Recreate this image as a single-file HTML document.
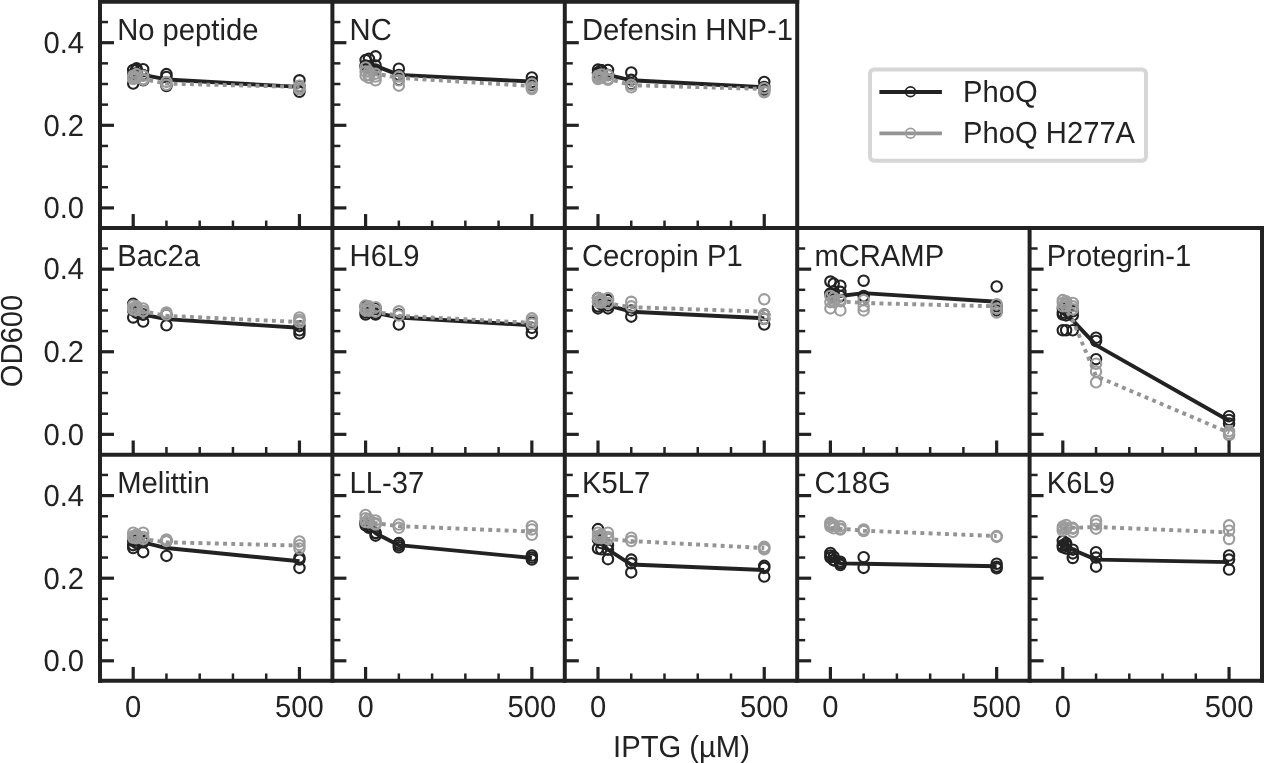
<!DOCTYPE html>
<html><head><meta charset="utf-8"><title>PhoQ OD600</title>
<style>
html,body{margin:0;padding:0;background:#fff;}
body{width:1264px;height:763px;overflow:hidden;}
svg{display:block;will-change:transform;text-rendering:geometricPrecision;}
.t{font-family:"Liberation Sans",sans-serif;font-size:29.2px;fill:#222;}
.sp{stroke:#222;stroke-width:4.0;}
.tM{stroke:#222;stroke-width:3.2;}
.tm{stroke:#222;stroke-width:2.5;}
.cb{fill:none;stroke:#222;stroke-width:2.1;}
.cg{fill:none;stroke:#9c9c9c;stroke-width:2.1;}
.lb{fill:none;stroke:#222;stroke-width:3.9;stroke-linejoin:round;}
.lg{fill:none;stroke:#949494;stroke-width:3.9;stroke-dasharray:3.9 4.3;}
</style></head>
<body><svg width="1264" height="763" viewBox="0 0 1264 763">
<rect width="1264" height="763" fill="#fff"/>
<circle cx="133.2" cy="69.96" r="5.2" class="cb"/>
<circle cx="133.2" cy="74.09" r="5.2" class="cb"/>
<circle cx="133.2" cy="83.59" r="5.2" class="cb"/>
<circle cx="136.52" cy="68.31" r="5.2" class="cb"/>
<circle cx="143.17" cy="69.13" r="5.2" class="cb"/>
<circle cx="143.17" cy="80.28" r="5.2" class="cb"/>
<circle cx="166.45" cy="74.09" r="5.2" class="cb"/>
<circle cx="166.45" cy="76.98" r="5.2" class="cb"/>
<circle cx="166.45" cy="86.07" r="5.2" class="cb"/>
<circle cx="299.45" cy="80.28" r="5.2" class="cb"/>
<circle cx="299.45" cy="86.07" r="5.2" class="cb"/>
<circle cx="299.45" cy="91.85" r="5.2" class="cb"/>
<circle cx="136.52" cy="73.26" r="5.2" class="cb"/>
<circle cx="136.52" cy="69.96" r="5.2" class="cb"/>
<circle cx="143.17" cy="74.91" r="5.2" class="cb"/>
<polyline points="133.2,73.26 136.52,73.26 143.17,74.91 166.45,79.46 299.45,86.89" class="lb"/>
<circle cx="133.2" cy="75.74" r="5.2" class="cg"/>
<circle cx="133.2" cy="79.04" r="5.2" class="cg"/>
<circle cx="136.52" cy="77.81" r="5.2" class="cg"/>
<circle cx="143.17" cy="79.87" r="5.2" class="cg"/>
<circle cx="166.45" cy="81.94" r="5.2" class="cg"/>
<circle cx="166.45" cy="84.83" r="5.2" class="cg"/>
<circle cx="299.45" cy="85.65" r="5.2" class="cg"/>
<circle cx="299.45" cy="88.13" r="5.2" class="cg"/>
<circle cx="299.45" cy="89.37" r="5.2" class="cg"/>
<circle cx="133.2" cy="77.39" r="5.2" class="cg"/>
<circle cx="136.52" cy="77.39" r="5.2" class="cg"/>
<circle cx="136.52" cy="74.09" r="5.2" class="cg"/>
<circle cx="143.17" cy="79.04" r="5.2" class="cg"/>
<circle cx="143.17" cy="75.74" r="5.2" class="cg"/>
<polyline points="133.2,77.39 136.52,77.39 143.17,79.04 166.45,83.59 299.45,86.89" class="lg"/>
<circle cx="365.6" cy="60.05" r="5.2" class="cb"/>
<circle cx="365.6" cy="65.42" r="5.2" class="cb"/>
<circle cx="368.92" cy="58.81" r="5.2" class="cb"/>
<circle cx="368.92" cy="67.48" r="5.2" class="cb"/>
<circle cx="375.57" cy="56.33" r="5.2" class="cb"/>
<circle cx="375.57" cy="65.42" r="5.2" class="cb"/>
<circle cx="375.57" cy="69.55" r="5.2" class="cb"/>
<circle cx="398.85" cy="68.72" r="5.2" class="cb"/>
<circle cx="398.85" cy="74.91" r="5.2" class="cb"/>
<circle cx="398.85" cy="79.87" r="5.2" class="cb"/>
<circle cx="531.85" cy="77.39" r="5.2" class="cb"/>
<circle cx="531.85" cy="81.94" r="5.2" class="cb"/>
<circle cx="531.85" cy="84.83" r="5.2" class="cb"/>
<circle cx="365.6" cy="66.65" r="5.2" class="cb"/>
<circle cx="368.92" cy="66.24" r="5.2" class="cb"/>
<polyline points="365.6,66.65 368.92,66.24 375.57,65.83 398.85,74.91 531.85,81.52" class="lb"/>
<circle cx="365.6" cy="67.48" r="5.2" class="cg"/>
<circle cx="365.6" cy="71.61" r="5.2" class="cg"/>
<circle cx="365.6" cy="75.74" r="5.2" class="cg"/>
<circle cx="368.92" cy="71.61" r="5.2" class="cg"/>
<circle cx="368.92" cy="74.91" r="5.2" class="cg"/>
<circle cx="368.92" cy="77.81" r="5.2" class="cg"/>
<circle cx="375.57" cy="73.67" r="5.2" class="cg"/>
<circle cx="375.57" cy="80.28" r="5.2" class="cg"/>
<circle cx="375.57" cy="76.57" r="5.2" class="cg"/>
<circle cx="398.85" cy="76.57" r="5.2" class="cg"/>
<circle cx="398.85" cy="80.28" r="5.2" class="cg"/>
<circle cx="398.85" cy="85.65" r="5.2" class="cg"/>
<circle cx="531.85" cy="84" r="5.2" class="cg"/>
<circle cx="531.85" cy="87.3" r="5.2" class="cg"/>
<circle cx="531.85" cy="88.96" r="5.2" class="cg"/>
<polyline points="365.6,72.44 368.92,72.85 375.57,73.67 398.85,77.81 531.85,86.07" class="lg"/>
<circle cx="598" cy="69.55" r="5.2" class="cb"/>
<circle cx="598" cy="72.44" r="5.2" class="cb"/>
<circle cx="601.33" cy="70.37" r="5.2" class="cb"/>
<circle cx="607.98" cy="69.96" r="5.2" class="cb"/>
<circle cx="607.98" cy="74.91" r="5.2" class="cb"/>
<circle cx="631.25" cy="72.44" r="5.2" class="cb"/>
<circle cx="631.25" cy="79.87" r="5.2" class="cb"/>
<circle cx="631.25" cy="84" r="5.2" class="cb"/>
<circle cx="764.25" cy="81.94" r="5.2" class="cb"/>
<circle cx="764.25" cy="86.89" r="5.2" class="cb"/>
<circle cx="764.25" cy="89.78" r="5.2" class="cb"/>
<circle cx="598" cy="73.26" r="5.2" class="cb"/>
<circle cx="601.33" cy="73.67" r="5.2" class="cb"/>
<circle cx="601.33" cy="70.37" r="5.2" class="cb"/>
<circle cx="607.98" cy="74.91" r="5.2" class="cb"/>
<polyline points="598,73.26 601.33,73.67 607.98,74.91 631.25,80.28 764.25,87.3" class="lb"/>
<circle cx="598" cy="75.74" r="5.2" class="cg"/>
<circle cx="598" cy="79.04" r="5.2" class="cg"/>
<circle cx="601.33" cy="77.81" r="5.2" class="cg"/>
<circle cx="607.98" cy="79.87" r="5.2" class="cg"/>
<circle cx="631.25" cy="84.83" r="5.2" class="cg"/>
<circle cx="631.25" cy="87.3" r="5.2" class="cg"/>
<circle cx="764.25" cy="88.13" r="5.2" class="cg"/>
<circle cx="764.25" cy="91.43" r="5.2" class="cg"/>
<circle cx="764.25" cy="92.26" r="5.2" class="cg"/>
<circle cx="598" cy="77.39" r="5.2" class="cg"/>
<circle cx="601.33" cy="77.81" r="5.2" class="cg"/>
<circle cx="601.33" cy="74.5" r="5.2" class="cg"/>
<circle cx="607.98" cy="78.63" r="5.2" class="cg"/>
<circle cx="607.98" cy="75.33" r="5.2" class="cg"/>
<polyline points="598,77.39 601.33,77.81 607.98,78.63 631.25,85.24 764.25,88.96" class="lg"/>
<circle cx="133.2" cy="303.84" r="5.2" class="cb"/>
<circle cx="133.2" cy="310.45" r="5.2" class="cb"/>
<circle cx="133.2" cy="317.47" r="5.2" class="cb"/>
<circle cx="136.52" cy="310.45" r="5.2" class="cb"/>
<circle cx="143.17" cy="321.6" r="5.2" class="cb"/>
<circle cx="143.17" cy="314.58" r="5.2" class="cb"/>
<circle cx="166.45" cy="314.58" r="5.2" class="cb"/>
<circle cx="166.45" cy="325.32" r="5.2" class="cb"/>
<circle cx="299.45" cy="326.14" r="5.2" class="cb"/>
<circle cx="299.45" cy="330.27" r="5.2" class="cb"/>
<circle cx="299.45" cy="333.58" r="5.2" class="cb"/>
<circle cx="136.52" cy="312.93" r="5.2" class="cb"/>
<circle cx="136.52" cy="309.62" r="5.2" class="cb"/>
<circle cx="143.17" cy="314.58" r="5.2" class="cb"/>
<polyline points="133.2,312.51 136.52,312.93 143.17,314.58 166.45,319.12 299.45,327.8" class="lb"/>
<circle cx="133.2" cy="305.49" r="5.2" class="cg"/>
<circle cx="133.2" cy="308.38" r="5.2" class="cg"/>
<circle cx="136.52" cy="306.32" r="5.2" class="cg"/>
<circle cx="143.17" cy="308.38" r="5.2" class="cg"/>
<circle cx="143.17" cy="311.28" r="5.2" class="cg"/>
<circle cx="166.45" cy="312.51" r="5.2" class="cg"/>
<circle cx="166.45" cy="314.58" r="5.2" class="cg"/>
<circle cx="299.45" cy="317.47" r="5.2" class="cg"/>
<circle cx="299.45" cy="319.95" r="5.2" class="cg"/>
<circle cx="299.45" cy="322.01" r="5.2" class="cg"/>
<circle cx="133.2" cy="309.62" r="5.2" class="cg"/>
<circle cx="136.52" cy="310.04" r="5.2" class="cg"/>
<circle cx="136.52" cy="306.73" r="5.2" class="cg"/>
<circle cx="143.17" cy="311.28" r="5.2" class="cg"/>
<polyline points="133.2,309.62 136.52,310.04 143.17,311.28 166.45,315.82 299.45,322.01" class="lg"/>
<circle cx="365.6" cy="306.32" r="5.2" class="cb"/>
<circle cx="365.6" cy="312.51" r="5.2" class="cb"/>
<circle cx="365.6" cy="314.58" r="5.2" class="cb"/>
<circle cx="368.92" cy="310.45" r="5.2" class="cb"/>
<circle cx="375.57" cy="308.38" r="5.2" class="cb"/>
<circle cx="375.57" cy="314.58" r="5.2" class="cb"/>
<circle cx="398.85" cy="314.58" r="5.2" class="cb"/>
<circle cx="398.85" cy="324.49" r="5.2" class="cb"/>
<circle cx="531.85" cy="322.84" r="5.2" class="cb"/>
<circle cx="531.85" cy="327.8" r="5.2" class="cb"/>
<circle cx="531.85" cy="333.16" r="5.2" class="cb"/>
<circle cx="368.92" cy="311.69" r="5.2" class="cb"/>
<circle cx="368.92" cy="308.38" r="5.2" class="cb"/>
<circle cx="375.57" cy="312.93" r="5.2" class="cb"/>
<polyline points="365.6,311.28 368.92,311.69 375.57,312.93 398.85,317.47 531.85,325.32" class="lb"/>
<circle cx="365.6" cy="305.49" r="5.2" class="cg"/>
<circle cx="365.6" cy="308.38" r="5.2" class="cg"/>
<circle cx="368.92" cy="306.32" r="5.2" class="cg"/>
<circle cx="375.57" cy="307.15" r="5.2" class="cg"/>
<circle cx="375.57" cy="311.28" r="5.2" class="cg"/>
<circle cx="398.85" cy="311.28" r="5.2" class="cg"/>
<circle cx="398.85" cy="315.41" r="5.2" class="cg"/>
<circle cx="531.85" cy="318.3" r="5.2" class="cg"/>
<circle cx="531.85" cy="320.77" r="5.2" class="cg"/>
<circle cx="531.85" cy="323.67" r="5.2" class="cg"/>
<circle cx="365.6" cy="310.45" r="5.2" class="cg"/>
<circle cx="368.92" cy="310.86" r="5.2" class="cg"/>
<circle cx="368.92" cy="307.56" r="5.2" class="cg"/>
<circle cx="375.57" cy="311.69" r="5.2" class="cg"/>
<polyline points="365.6,310.45 368.92,310.86 375.57,311.69 398.85,315.82 531.85,322.84" class="lg"/>
<circle cx="598" cy="298.06" r="5.2" class="cb"/>
<circle cx="598" cy="306.32" r="5.2" class="cb"/>
<circle cx="598" cy="308.38" r="5.2" class="cb"/>
<circle cx="601.33" cy="302.19" r="5.2" class="cb"/>
<circle cx="607.98" cy="308.38" r="5.2" class="cb"/>
<circle cx="607.98" cy="300.12" r="5.2" class="cb"/>
<circle cx="631.25" cy="310.45" r="5.2" class="cb"/>
<circle cx="631.25" cy="316.64" r="5.2" class="cb"/>
<circle cx="764.25" cy="314.58" r="5.2" class="cb"/>
<circle cx="764.25" cy="318.71" r="5.2" class="cb"/>
<circle cx="764.25" cy="324.49" r="5.2" class="cb"/>
<circle cx="601.33" cy="304.25" r="5.2" class="cb"/>
<circle cx="601.33" cy="300.95" r="5.2" class="cb"/>
<circle cx="607.98" cy="305.49" r="5.2" class="cb"/>
<polyline points="598,303.84 601.33,304.25 607.98,305.49 631.25,311.69 764.25,318.3" class="lb"/>
<circle cx="598" cy="298.06" r="5.2" class="cg"/>
<circle cx="598" cy="301.36" r="5.2" class="cg"/>
<circle cx="601.33" cy="300.12" r="5.2" class="cg"/>
<circle cx="607.98" cy="298.06" r="5.2" class="cg"/>
<circle cx="607.98" cy="303.02" r="5.2" class="cg"/>
<circle cx="631.25" cy="301.78" r="5.2" class="cg"/>
<circle cx="631.25" cy="306.32" r="5.2" class="cg"/>
<circle cx="764.25" cy="299.3" r="5.2" class="cg"/>
<circle cx="764.25" cy="314.58" r="5.2" class="cg"/>
<circle cx="764.25" cy="318.71" r="5.2" class="cg"/>
<circle cx="598" cy="302.19" r="5.2" class="cg"/>
<circle cx="601.33" cy="302.6" r="5.2" class="cg"/>
<circle cx="601.33" cy="299.3" r="5.2" class="cg"/>
<circle cx="607.98" cy="303.43" r="5.2" class="cg"/>
<polyline points="598,302.19 601.33,302.6 607.98,303.43 631.25,307.15 764.25,311.69" class="lg"/>
<circle cx="830.4" cy="281.54" r="5.2" class="cb"/>
<circle cx="830.4" cy="293.93" r="5.2" class="cb"/>
<circle cx="833.73" cy="283.61" r="5.2" class="cb"/>
<circle cx="840.38" cy="285.67" r="5.2" class="cb"/>
<circle cx="840.38" cy="291.87" r="5.2" class="cb"/>
<circle cx="863.65" cy="280.71" r="5.2" class="cb"/>
<circle cx="863.65" cy="296" r="5.2" class="cb"/>
<circle cx="996.65" cy="286.5" r="5.2" class="cb"/>
<circle cx="996.65" cy="306.32" r="5.2" class="cb"/>
<circle cx="996.65" cy="310.45" r="5.2" class="cb"/>
<circle cx="830.4" cy="293.52" r="5.2" class="cb"/>
<circle cx="833.73" cy="294.76" r="5.2" class="cb"/>
<circle cx="833.73" cy="291.45" r="5.2" class="cb"/>
<circle cx="840.38" cy="296" r="5.2" class="cb"/>
<polyline points="830.4,293.52 833.73,294.76 840.38,296 863.65,293.1 996.65,301.78" class="lb"/>
<circle cx="830.4" cy="296" r="5.2" class="cg"/>
<circle cx="830.4" cy="302.19" r="5.2" class="cg"/>
<circle cx="830.4" cy="308.38" r="5.2" class="cg"/>
<circle cx="833.73" cy="302.19" r="5.2" class="cg"/>
<circle cx="840.38" cy="310.45" r="5.2" class="cg"/>
<circle cx="840.38" cy="300.12" r="5.2" class="cg"/>
<circle cx="863.65" cy="300.12" r="5.2" class="cg"/>
<circle cx="863.65" cy="306.32" r="5.2" class="cg"/>
<circle cx="863.65" cy="310.45" r="5.2" class="cg"/>
<circle cx="996.65" cy="304.25" r="5.2" class="cg"/>
<circle cx="996.65" cy="308.38" r="5.2" class="cg"/>
<circle cx="996.65" cy="312.51" r="5.2" class="cg"/>
<circle cx="833.73" cy="300.95" r="5.2" class="cg"/>
<circle cx="833.73" cy="297.65" r="5.2" class="cg"/>
<circle cx="840.38" cy="301.36" r="5.2" class="cg"/>
<polyline points="830.4,300.54 833.73,300.95 840.38,301.36 863.65,303.02 996.65,306.32" class="lg"/>
<circle cx="1062.8" cy="308.38" r="5.2" class="cb"/>
<circle cx="1062.8" cy="312.51" r="5.2" class="cb"/>
<circle cx="1062.8" cy="314.58" r="5.2" class="cb"/>
<circle cx="1062.8" cy="330.27" r="5.2" class="cb"/>
<circle cx="1066.12" cy="330.27" r="5.2" class="cb"/>
<circle cx="1072.77" cy="330.27" r="5.2" class="cb"/>
<circle cx="1066.12" cy="310.45" r="5.2" class="cb"/>
<circle cx="1072.77" cy="311.28" r="5.2" class="cb"/>
<circle cx="1072.77" cy="315.41" r="5.2" class="cb"/>
<circle cx="1096.05" cy="337.71" r="5.2" class="cb"/>
<circle cx="1096.05" cy="341.01" r="5.2" class="cb"/>
<circle cx="1096.05" cy="359.18" r="5.2" class="cb"/>
<circle cx="1229.05" cy="416.18" r="5.2" class="cb"/>
<circle cx="1229.05" cy="419.89" r="5.2" class="cb"/>
<circle cx="1229.05" cy="423.61" r="5.2" class="cb"/>
<circle cx="1066.12" cy="315.41" r="5.2" class="cb"/>
<polyline points="1062.8,311.69 1066.12,315.41 1072.77,320.36 1096.05,345.14 1229.05,420.72" class="lb"/>
<circle cx="1062.8" cy="300.12" r="5.2" class="cg"/>
<circle cx="1062.8" cy="303.02" r="5.2" class="cg"/>
<circle cx="1062.8" cy="306.32" r="5.2" class="cg"/>
<circle cx="1066.12" cy="301.36" r="5.2" class="cg"/>
<circle cx="1066.12" cy="306.32" r="5.2" class="cg"/>
<circle cx="1066.12" cy="303.84" r="5.2" class="cg"/>
<circle cx="1072.77" cy="303.02" r="5.2" class="cg"/>
<circle cx="1072.77" cy="306.32" r="5.2" class="cg"/>
<circle cx="1072.77" cy="309.21" r="5.2" class="cg"/>
<circle cx="1096.05" cy="363.73" r="5.2" class="cg"/>
<circle cx="1096.05" cy="371.57" r="5.2" class="cg"/>
<circle cx="1096.05" cy="382.31" r="5.2" class="cg"/>
<circle cx="1229.05" cy="431.05" r="5.2" class="cg"/>
<circle cx="1229.05" cy="433.52" r="5.2" class="cg"/>
<circle cx="1229.05" cy="435.18" r="5.2" class="cg"/>
<polyline points="1062.8,305.49 1066.12,310.45 1072.77,320.36 1096.05,376.12 1229.05,432.7" class="lg"/>
<circle cx="133.2" cy="541.03" r="5.2" class="cb"/>
<circle cx="133.2" cy="545.16" r="5.2" class="cb"/>
<circle cx="133.2" cy="548.05" r="5.2" class="cb"/>
<circle cx="136.52" cy="543.1" r="5.2" class="cb"/>
<circle cx="143.17" cy="552.18" r="5.2" class="cb"/>
<circle cx="143.17" cy="541.03" r="5.2" class="cb"/>
<circle cx="166.45" cy="541.03" r="5.2" class="cb"/>
<circle cx="166.45" cy="555.9" r="5.2" class="cb"/>
<circle cx="299.45" cy="557.55" r="5.2" class="cb"/>
<circle cx="299.45" cy="559.62" r="5.2" class="cb"/>
<circle cx="299.45" cy="567.88" r="5.2" class="cb"/>
<circle cx="136.52" cy="540.62" r="5.2" class="cb"/>
<circle cx="136.52" cy="537.31" r="5.2" class="cb"/>
<circle cx="143.17" cy="542.27" r="5.2" class="cb"/>
<polyline points="133.2,540.2 136.52,540.62 143.17,542.27 166.45,548.05 299.45,561.27" class="lb"/>
<circle cx="133.2" cy="532.77" r="5.2" class="cg"/>
<circle cx="133.2" cy="536.07" r="5.2" class="cg"/>
<circle cx="136.52" cy="534.83" r="5.2" class="cg"/>
<circle cx="143.17" cy="532.77" r="5.2" class="cg"/>
<circle cx="143.17" cy="536.9" r="5.2" class="cg"/>
<circle cx="166.45" cy="539.38" r="5.2" class="cg"/>
<circle cx="166.45" cy="541.03" r="5.2" class="cg"/>
<circle cx="299.45" cy="541.44" r="5.2" class="cg"/>
<circle cx="299.45" cy="545.16" r="5.2" class="cg"/>
<circle cx="299.45" cy="548.46" r="5.2" class="cg"/>
<circle cx="133.2" cy="537.73" r="5.2" class="cg"/>
<circle cx="136.52" cy="538.14" r="5.2" class="cg"/>
<circle cx="136.52" cy="534.83" r="5.2" class="cg"/>
<circle cx="143.17" cy="538.96" r="5.2" class="cg"/>
<polyline points="133.2,537.73 136.52,538.14 143.17,538.96 166.45,542.27 299.45,545.57" class="lg"/>
<circle cx="365.6" cy="522.44" r="5.2" class="cb"/>
<circle cx="365.6" cy="525.34" r="5.2" class="cb"/>
<circle cx="368.92" cy="524.51" r="5.2" class="cb"/>
<circle cx="368.92" cy="527.81" r="5.2" class="cb"/>
<circle cx="375.57" cy="535.66" r="5.2" class="cb"/>
<circle cx="375.57" cy="532.77" r="5.2" class="cb"/>
<circle cx="398.85" cy="543.1" r="5.2" class="cb"/>
<circle cx="398.85" cy="545.16" r="5.2" class="cb"/>
<circle cx="398.85" cy="547.22" r="5.2" class="cb"/>
<circle cx="531.85" cy="555.48" r="5.2" class="cb"/>
<circle cx="531.85" cy="557.55" r="5.2" class="cb"/>
<circle cx="531.85" cy="559.62" r="5.2" class="cb"/>
<circle cx="365.6" cy="522.86" r="5.2" class="cb"/>
<circle cx="368.92" cy="526.57" r="5.2" class="cb"/>
<circle cx="375.57" cy="533.18" r="5.2" class="cb"/>
<polyline points="365.6,522.86 368.92,526.57 375.57,533.18 398.85,545.16 531.85,557.96" class="lb"/>
<circle cx="365.6" cy="515.01" r="5.2" class="cg"/>
<circle cx="365.6" cy="518.31" r="5.2" class="cg"/>
<circle cx="368.92" cy="519.55" r="5.2" class="cg"/>
<circle cx="375.57" cy="520.38" r="5.2" class="cg"/>
<circle cx="375.57" cy="524.51" r="5.2" class="cg"/>
<circle cx="398.85" cy="524.51" r="5.2" class="cg"/>
<circle cx="398.85" cy="527.81" r="5.2" class="cg"/>
<circle cx="531.85" cy="526.16" r="5.2" class="cg"/>
<circle cx="531.85" cy="529.47" r="5.2" class="cg"/>
<circle cx="531.85" cy="534.83" r="5.2" class="cg"/>
<circle cx="365.6" cy="522.03" r="5.2" class="cg"/>
<circle cx="368.92" cy="522.44" r="5.2" class="cg"/>
<circle cx="368.92" cy="519.14" r="5.2" class="cg"/>
<circle cx="375.57" cy="523.27" r="5.2" class="cg"/>
<polyline points="365.6,522.03 368.92,522.44 375.57,523.27 398.85,526.16 531.85,531.53" class="lg"/>
<circle cx="598" cy="529.05" r="5.2" class="cb"/>
<circle cx="598" cy="548.46" r="5.2" class="cb"/>
<circle cx="601.33" cy="549.29" r="5.2" class="cb"/>
<circle cx="607.98" cy="559.2" r="5.2" class="cb"/>
<circle cx="607.98" cy="545.16" r="5.2" class="cb"/>
<circle cx="631.25" cy="559.62" r="5.2" class="cb"/>
<circle cx="631.25" cy="563.33" r="5.2" class="cb"/>
<circle cx="631.25" cy="572.42" r="5.2" class="cb"/>
<circle cx="764.25" cy="565.81" r="5.2" class="cb"/>
<circle cx="764.25" cy="567.88" r="5.2" class="cb"/>
<circle cx="764.25" cy="576.55" r="5.2" class="cb"/>
<circle cx="598" cy="539.38" r="5.2" class="cb"/>
<circle cx="601.33" cy="543.1" r="5.2" class="cb"/>
<circle cx="601.33" cy="539.79" r="5.2" class="cb"/>
<circle cx="607.98" cy="549.7" r="5.2" class="cb"/>
<polyline points="598,539.38 601.33,543.1 607.98,549.7 631.25,564.57 764.25,569.94" class="lb"/>
<circle cx="598" cy="532.77" r="5.2" class="cg"/>
<circle cx="598" cy="536.07" r="5.2" class="cg"/>
<circle cx="601.33" cy="534.83" r="5.2" class="cg"/>
<circle cx="607.98" cy="532.77" r="5.2" class="cg"/>
<circle cx="607.98" cy="536.9" r="5.2" class="cg"/>
<circle cx="631.25" cy="537.73" r="5.2" class="cg"/>
<circle cx="631.25" cy="541.03" r="5.2" class="cg"/>
<circle cx="764.25" cy="546.81" r="5.2" class="cg"/>
<circle cx="764.25" cy="548.46" r="5.2" class="cg"/>
<circle cx="764.25" cy="549.29" r="5.2" class="cg"/>
<circle cx="598" cy="537.73" r="5.2" class="cg"/>
<circle cx="601.33" cy="538.14" r="5.2" class="cg"/>
<circle cx="601.33" cy="534.83" r="5.2" class="cg"/>
<circle cx="607.98" cy="538.96" r="5.2" class="cg"/>
<polyline points="598,537.73 601.33,538.14 607.98,538.96 631.25,541.03 764.25,548.05" class="lg"/>
<circle cx="830.4" cy="553.01" r="5.2" class="cb"/>
<circle cx="830.4" cy="555.48" r="5.2" class="cb"/>
<circle cx="830.4" cy="557.55" r="5.2" class="cb"/>
<circle cx="833.73" cy="556.72" r="5.2" class="cb"/>
<circle cx="833.73" cy="560.44" r="5.2" class="cb"/>
<circle cx="840.38" cy="561.68" r="5.2" class="cb"/>
<circle cx="840.38" cy="564.98" r="5.2" class="cb"/>
<circle cx="863.65" cy="557.14" r="5.2" class="cb"/>
<circle cx="863.65" cy="567.88" r="5.2" class="cb"/>
<circle cx="996.65" cy="563.75" r="5.2" class="cb"/>
<circle cx="996.65" cy="566.64" r="5.2" class="cb"/>
<circle cx="996.65" cy="568.29" r="5.2" class="cb"/>
<circle cx="833.73" cy="560.03" r="5.2" class="cb"/>
<circle cx="840.38" cy="563.33" r="5.2" class="cb"/>
<polyline points="830.4,558.38 833.73,560.03 840.38,563.33 863.65,563.75 996.65,566.22" class="lb"/>
<circle cx="830.4" cy="522.86" r="5.2" class="cg"/>
<circle cx="830.4" cy="524.51" r="5.2" class="cg"/>
<circle cx="830.4" cy="526.57" r="5.2" class="cg"/>
<circle cx="833.73" cy="525.34" r="5.2" class="cg"/>
<circle cx="840.38" cy="526.16" r="5.2" class="cg"/>
<circle cx="840.38" cy="529.47" r="5.2" class="cg"/>
<circle cx="863.65" cy="529.47" r="5.2" class="cg"/>
<circle cx="863.65" cy="531.12" r="5.2" class="cg"/>
<circle cx="996.65" cy="536.07" r="5.2" class="cg"/>
<circle cx="996.65" cy="536.9" r="5.2" class="cg"/>
<circle cx="833.73" cy="528.23" r="5.2" class="cg"/>
<circle cx="833.73" cy="524.92" r="5.2" class="cg"/>
<circle cx="840.38" cy="528.64" r="5.2" class="cg"/>
<polyline points="830.4,527.81 833.73,528.23 840.38,528.64 863.65,530.7 996.65,536.07" class="lg"/>
<circle cx="1062.8" cy="541.03" r="5.2" class="cb"/>
<circle cx="1062.8" cy="545.16" r="5.2" class="cb"/>
<circle cx="1062.8" cy="547.22" r="5.2" class="cb"/>
<circle cx="1066.12" cy="543.1" r="5.2" class="cb"/>
<circle cx="1066.12" cy="548.46" r="5.2" class="cb"/>
<circle cx="1072.77" cy="557.96" r="5.2" class="cb"/>
<circle cx="1072.77" cy="553.42" r="5.2" class="cb"/>
<circle cx="1096.05" cy="552.18" r="5.2" class="cb"/>
<circle cx="1096.05" cy="557.55" r="5.2" class="cb"/>
<circle cx="1096.05" cy="566.64" r="5.2" class="cb"/>
<circle cx="1229.05" cy="555.48" r="5.2" class="cb"/>
<circle cx="1229.05" cy="559.62" r="5.2" class="cb"/>
<circle cx="1229.05" cy="569.53" r="5.2" class="cb"/>
<circle cx="1066.12" cy="545.16" r="5.2" class="cb"/>
<circle cx="1072.77" cy="549.7" r="5.2" class="cb"/>
<polyline points="1062.8,542.68 1066.12,545.16 1072.77,549.7 1096.05,559.62 1229.05,562.09" class="lb"/>
<circle cx="1062.8" cy="526.57" r="5.2" class="cg"/>
<circle cx="1062.8" cy="528.64" r="5.2" class="cg"/>
<circle cx="1062.8" cy="530.7" r="5.2" class="cg"/>
<circle cx="1066.12" cy="527.81" r="5.2" class="cg"/>
<circle cx="1072.77" cy="528.64" r="5.2" class="cg"/>
<circle cx="1072.77" cy="531.94" r="5.2" class="cg"/>
<circle cx="1096.05" cy="520.79" r="5.2" class="cg"/>
<circle cx="1096.05" cy="524.51" r="5.2" class="cg"/>
<circle cx="1096.05" cy="528.64" r="5.2" class="cg"/>
<circle cx="1229.05" cy="525.34" r="5.2" class="cg"/>
<circle cx="1229.05" cy="530.7" r="5.2" class="cg"/>
<circle cx="1229.05" cy="538.96" r="5.2" class="cg"/>
<circle cx="1066.12" cy="528.23" r="5.2" class="cg"/>
<circle cx="1066.12" cy="524.92" r="5.2" class="cg"/>
<circle cx="1072.77" cy="527.81" r="5.2" class="cg"/>
<polyline points="1062.8,528.64 1066.12,528.23 1072.77,527.81 1096.05,526.99 1229.05,532.36" class="lg"/>
<line x1="100" y1="207.9" x2="114" y2="207.9" class="tM"/>
<line x1="100" y1="187.25" x2="108" y2="187.25" class="tm"/>
<line x1="100" y1="166.6" x2="108" y2="166.6" class="tm"/>
<line x1="100" y1="145.95" x2="108" y2="145.95" class="tm"/>
<line x1="100" y1="125.3" x2="114" y2="125.3" class="tM"/>
<line x1="100" y1="104.65" x2="108" y2="104.65" class="tm"/>
<line x1="100" y1="84" x2="108" y2="84" class="tm"/>
<line x1="100" y1="63.35" x2="108" y2="63.35" class="tm"/>
<line x1="100" y1="42.7" x2="114" y2="42.7" class="tM"/>
<line x1="100" y1="22.05" x2="108" y2="22.05" class="tm"/>
<line x1="100" y1="1.4" x2="108" y2="1.4" class="tm"/>
<line x1="133.2" y1="228.55" x2="133.2" y2="214.05" class="tM"/>
<line x1="166.45" y1="228.55" x2="166.45" y2="220.55" class="tm"/>
<line x1="199.7" y1="228.55" x2="199.7" y2="220.55" class="tm"/>
<line x1="232.95" y1="228.55" x2="232.95" y2="220.55" class="tm"/>
<line x1="266.2" y1="228.55" x2="266.2" y2="220.55" class="tm"/>
<line x1="299.45" y1="228.55" x2="299.45" y2="214.05" class="tM"/>
<text transform="translate(117.2,39.9) scale(1,1.04)" class="t">No peptide</text>
<line x1="332.4" y1="207.9" x2="346.4" y2="207.9" class="tM"/>
<line x1="332.4" y1="187.25" x2="340.4" y2="187.25" class="tm"/>
<line x1="332.4" y1="166.6" x2="340.4" y2="166.6" class="tm"/>
<line x1="332.4" y1="145.95" x2="340.4" y2="145.95" class="tm"/>
<line x1="332.4" y1="125.3" x2="346.4" y2="125.3" class="tM"/>
<line x1="332.4" y1="104.65" x2="340.4" y2="104.65" class="tm"/>
<line x1="332.4" y1="84" x2="340.4" y2="84" class="tm"/>
<line x1="332.4" y1="63.35" x2="340.4" y2="63.35" class="tm"/>
<line x1="332.4" y1="42.7" x2="346.4" y2="42.7" class="tM"/>
<line x1="332.4" y1="22.05" x2="340.4" y2="22.05" class="tm"/>
<line x1="332.4" y1="1.4" x2="340.4" y2="1.4" class="tm"/>
<line x1="365.6" y1="228.55" x2="365.6" y2="214.05" class="tM"/>
<line x1="398.85" y1="228.55" x2="398.85" y2="220.55" class="tm"/>
<line x1="432.1" y1="228.55" x2="432.1" y2="220.55" class="tm"/>
<line x1="465.35" y1="228.55" x2="465.35" y2="220.55" class="tm"/>
<line x1="498.6" y1="228.55" x2="498.6" y2="220.55" class="tm"/>
<line x1="531.85" y1="228.55" x2="531.85" y2="214.05" class="tM"/>
<text transform="translate(349.6,39.9) scale(1,1.04)" class="t">NC</text>
<line x1="564.8" y1="207.9" x2="578.8" y2="207.9" class="tM"/>
<line x1="564.8" y1="187.25" x2="572.8" y2="187.25" class="tm"/>
<line x1="564.8" y1="166.6" x2="572.8" y2="166.6" class="tm"/>
<line x1="564.8" y1="145.95" x2="572.8" y2="145.95" class="tm"/>
<line x1="564.8" y1="125.3" x2="578.8" y2="125.3" class="tM"/>
<line x1="564.8" y1="104.65" x2="572.8" y2="104.65" class="tm"/>
<line x1="564.8" y1="84" x2="572.8" y2="84" class="tm"/>
<line x1="564.8" y1="63.35" x2="572.8" y2="63.35" class="tm"/>
<line x1="564.8" y1="42.7" x2="578.8" y2="42.7" class="tM"/>
<line x1="564.8" y1="22.05" x2="572.8" y2="22.05" class="tm"/>
<line x1="564.8" y1="1.4" x2="572.8" y2="1.4" class="tm"/>
<line x1="598" y1="228.55" x2="598" y2="214.05" class="tM"/>
<line x1="631.25" y1="228.55" x2="631.25" y2="220.55" class="tm"/>
<line x1="664.5" y1="228.55" x2="664.5" y2="220.55" class="tm"/>
<line x1="697.75" y1="228.55" x2="697.75" y2="220.55" class="tm"/>
<line x1="731" y1="228.55" x2="731" y2="220.55" class="tm"/>
<line x1="764.25" y1="228.55" x2="764.25" y2="214.05" class="tM"/>
<text transform="translate(582,39.9) scale(1,1.04)" class="t">Defensin HNP-1</text>
<line x1="100" y1="434.35" x2="114" y2="434.35" class="tM"/>
<line x1="100" y1="413.7" x2="108" y2="413.7" class="tm"/>
<line x1="100" y1="393.05" x2="108" y2="393.05" class="tm"/>
<line x1="100" y1="372.4" x2="108" y2="372.4" class="tm"/>
<line x1="100" y1="351.75" x2="114" y2="351.75" class="tM"/>
<line x1="100" y1="331.1" x2="108" y2="331.1" class="tm"/>
<line x1="100" y1="310.45" x2="108" y2="310.45" class="tm"/>
<line x1="100" y1="289.8" x2="108" y2="289.8" class="tm"/>
<line x1="100" y1="269.15" x2="114" y2="269.15" class="tM"/>
<line x1="100" y1="248.5" x2="108" y2="248.5" class="tm"/>
<line x1="100" y1="227.85" x2="108" y2="227.85" class="tm"/>
<line x1="133.2" y1="455" x2="133.2" y2="440.5" class="tM"/>
<line x1="166.45" y1="455" x2="166.45" y2="447" class="tm"/>
<line x1="199.7" y1="455" x2="199.7" y2="447" class="tm"/>
<line x1="232.95" y1="455" x2="232.95" y2="447" class="tm"/>
<line x1="266.2" y1="455" x2="266.2" y2="447" class="tm"/>
<line x1="299.45" y1="455" x2="299.45" y2="440.5" class="tM"/>
<text transform="translate(117.2,266.35) scale(1,1.04)" class="t">Bac2a</text>
<line x1="332.4" y1="434.35" x2="346.4" y2="434.35" class="tM"/>
<line x1="332.4" y1="413.7" x2="340.4" y2="413.7" class="tm"/>
<line x1="332.4" y1="393.05" x2="340.4" y2="393.05" class="tm"/>
<line x1="332.4" y1="372.4" x2="340.4" y2="372.4" class="tm"/>
<line x1="332.4" y1="351.75" x2="346.4" y2="351.75" class="tM"/>
<line x1="332.4" y1="331.1" x2="340.4" y2="331.1" class="tm"/>
<line x1="332.4" y1="310.45" x2="340.4" y2="310.45" class="tm"/>
<line x1="332.4" y1="289.8" x2="340.4" y2="289.8" class="tm"/>
<line x1="332.4" y1="269.15" x2="346.4" y2="269.15" class="tM"/>
<line x1="332.4" y1="248.5" x2="340.4" y2="248.5" class="tm"/>
<line x1="332.4" y1="227.85" x2="340.4" y2="227.85" class="tm"/>
<line x1="365.6" y1="455" x2="365.6" y2="440.5" class="tM"/>
<line x1="398.85" y1="455" x2="398.85" y2="447" class="tm"/>
<line x1="432.1" y1="455" x2="432.1" y2="447" class="tm"/>
<line x1="465.35" y1="455" x2="465.35" y2="447" class="tm"/>
<line x1="498.6" y1="455" x2="498.6" y2="447" class="tm"/>
<line x1="531.85" y1="455" x2="531.85" y2="440.5" class="tM"/>
<text transform="translate(349.6,266.35) scale(1,1.04)" class="t">H6L9</text>
<line x1="564.8" y1="434.35" x2="578.8" y2="434.35" class="tM"/>
<line x1="564.8" y1="413.7" x2="572.8" y2="413.7" class="tm"/>
<line x1="564.8" y1="393.05" x2="572.8" y2="393.05" class="tm"/>
<line x1="564.8" y1="372.4" x2="572.8" y2="372.4" class="tm"/>
<line x1="564.8" y1="351.75" x2="578.8" y2="351.75" class="tM"/>
<line x1="564.8" y1="331.1" x2="572.8" y2="331.1" class="tm"/>
<line x1="564.8" y1="310.45" x2="572.8" y2="310.45" class="tm"/>
<line x1="564.8" y1="289.8" x2="572.8" y2="289.8" class="tm"/>
<line x1="564.8" y1="269.15" x2="578.8" y2="269.15" class="tM"/>
<line x1="564.8" y1="248.5" x2="572.8" y2="248.5" class="tm"/>
<line x1="564.8" y1="227.85" x2="572.8" y2="227.85" class="tm"/>
<line x1="598" y1="455" x2="598" y2="440.5" class="tM"/>
<line x1="631.25" y1="455" x2="631.25" y2="447" class="tm"/>
<line x1="664.5" y1="455" x2="664.5" y2="447" class="tm"/>
<line x1="697.75" y1="455" x2="697.75" y2="447" class="tm"/>
<line x1="731" y1="455" x2="731" y2="447" class="tm"/>
<line x1="764.25" y1="455" x2="764.25" y2="440.5" class="tM"/>
<text transform="translate(582,266.35) scale(1,1.04)" class="t">Cecropin P1</text>
<line x1="797.2" y1="434.35" x2="811.2" y2="434.35" class="tM"/>
<line x1="797.2" y1="413.7" x2="805.2" y2="413.7" class="tm"/>
<line x1="797.2" y1="393.05" x2="805.2" y2="393.05" class="tm"/>
<line x1="797.2" y1="372.4" x2="805.2" y2="372.4" class="tm"/>
<line x1="797.2" y1="351.75" x2="811.2" y2="351.75" class="tM"/>
<line x1="797.2" y1="331.1" x2="805.2" y2="331.1" class="tm"/>
<line x1="797.2" y1="310.45" x2="805.2" y2="310.45" class="tm"/>
<line x1="797.2" y1="289.8" x2="805.2" y2="289.8" class="tm"/>
<line x1="797.2" y1="269.15" x2="811.2" y2="269.15" class="tM"/>
<line x1="797.2" y1="248.5" x2="805.2" y2="248.5" class="tm"/>
<line x1="797.2" y1="227.85" x2="805.2" y2="227.85" class="tm"/>
<line x1="830.4" y1="455" x2="830.4" y2="440.5" class="tM"/>
<line x1="863.65" y1="455" x2="863.65" y2="447" class="tm"/>
<line x1="896.9" y1="455" x2="896.9" y2="447" class="tm"/>
<line x1="930.15" y1="455" x2="930.15" y2="447" class="tm"/>
<line x1="963.4" y1="455" x2="963.4" y2="447" class="tm"/>
<line x1="996.65" y1="455" x2="996.65" y2="440.5" class="tM"/>
<text transform="translate(814.4,266.35) scale(1,1.04)" class="t">mCRAMP</text>
<line x1="1029.6" y1="434.35" x2="1043.6" y2="434.35" class="tM"/>
<line x1="1029.6" y1="413.7" x2="1037.6" y2="413.7" class="tm"/>
<line x1="1029.6" y1="393.05" x2="1037.6" y2="393.05" class="tm"/>
<line x1="1029.6" y1="372.4" x2="1037.6" y2="372.4" class="tm"/>
<line x1="1029.6" y1="351.75" x2="1043.6" y2="351.75" class="tM"/>
<line x1="1029.6" y1="331.1" x2="1037.6" y2="331.1" class="tm"/>
<line x1="1029.6" y1="310.45" x2="1037.6" y2="310.45" class="tm"/>
<line x1="1029.6" y1="289.8" x2="1037.6" y2="289.8" class="tm"/>
<line x1="1029.6" y1="269.15" x2="1043.6" y2="269.15" class="tM"/>
<line x1="1029.6" y1="248.5" x2="1037.6" y2="248.5" class="tm"/>
<line x1="1029.6" y1="227.85" x2="1037.6" y2="227.85" class="tm"/>
<line x1="1062.8" y1="455" x2="1062.8" y2="440.5" class="tM"/>
<line x1="1096.05" y1="455" x2="1096.05" y2="447" class="tm"/>
<line x1="1129.3" y1="455" x2="1129.3" y2="447" class="tm"/>
<line x1="1162.55" y1="455" x2="1162.55" y2="447" class="tm"/>
<line x1="1195.8" y1="455" x2="1195.8" y2="447" class="tm"/>
<line x1="1229.05" y1="455" x2="1229.05" y2="440.5" class="tM"/>
<text transform="translate(1046.8,266.35) scale(1,1.04)" class="t">Protegrin-1</text>
<line x1="100" y1="660.8" x2="114" y2="660.8" class="tM"/>
<line x1="100" y1="640.15" x2="108" y2="640.15" class="tm"/>
<line x1="100" y1="619.5" x2="108" y2="619.5" class="tm"/>
<line x1="100" y1="598.85" x2="108" y2="598.85" class="tm"/>
<line x1="100" y1="578.2" x2="114" y2="578.2" class="tM"/>
<line x1="100" y1="557.55" x2="108" y2="557.55" class="tm"/>
<line x1="100" y1="536.9" x2="108" y2="536.9" class="tm"/>
<line x1="100" y1="516.25" x2="108" y2="516.25" class="tm"/>
<line x1="100" y1="495.6" x2="114" y2="495.6" class="tM"/>
<line x1="100" y1="474.95" x2="108" y2="474.95" class="tm"/>
<line x1="100" y1="454.3" x2="108" y2="454.3" class="tm"/>
<line x1="133.2" y1="681.45" x2="133.2" y2="666.95" class="tM"/>
<line x1="166.45" y1="681.45" x2="166.45" y2="673.45" class="tm"/>
<line x1="199.7" y1="681.45" x2="199.7" y2="673.45" class="tm"/>
<line x1="232.95" y1="681.45" x2="232.95" y2="673.45" class="tm"/>
<line x1="266.2" y1="681.45" x2="266.2" y2="673.45" class="tm"/>
<line x1="299.45" y1="681.45" x2="299.45" y2="666.95" class="tM"/>
<text transform="translate(117.2,492.8) scale(1,1.04)" class="t">Melittin</text>
<line x1="332.4" y1="660.8" x2="346.4" y2="660.8" class="tM"/>
<line x1="332.4" y1="640.15" x2="340.4" y2="640.15" class="tm"/>
<line x1="332.4" y1="619.5" x2="340.4" y2="619.5" class="tm"/>
<line x1="332.4" y1="598.85" x2="340.4" y2="598.85" class="tm"/>
<line x1="332.4" y1="578.2" x2="346.4" y2="578.2" class="tM"/>
<line x1="332.4" y1="557.55" x2="340.4" y2="557.55" class="tm"/>
<line x1="332.4" y1="536.9" x2="340.4" y2="536.9" class="tm"/>
<line x1="332.4" y1="516.25" x2="340.4" y2="516.25" class="tm"/>
<line x1="332.4" y1="495.6" x2="346.4" y2="495.6" class="tM"/>
<line x1="332.4" y1="474.95" x2="340.4" y2="474.95" class="tm"/>
<line x1="332.4" y1="454.3" x2="340.4" y2="454.3" class="tm"/>
<line x1="365.6" y1="681.45" x2="365.6" y2="666.95" class="tM"/>
<line x1="398.85" y1="681.45" x2="398.85" y2="673.45" class="tm"/>
<line x1="432.1" y1="681.45" x2="432.1" y2="673.45" class="tm"/>
<line x1="465.35" y1="681.45" x2="465.35" y2="673.45" class="tm"/>
<line x1="498.6" y1="681.45" x2="498.6" y2="673.45" class="tm"/>
<line x1="531.85" y1="681.45" x2="531.85" y2="666.95" class="tM"/>
<text transform="translate(349.6,492.8) scale(1,1.04)" class="t">LL-37</text>
<line x1="564.8" y1="660.8" x2="578.8" y2="660.8" class="tM"/>
<line x1="564.8" y1="640.15" x2="572.8" y2="640.15" class="tm"/>
<line x1="564.8" y1="619.5" x2="572.8" y2="619.5" class="tm"/>
<line x1="564.8" y1="598.85" x2="572.8" y2="598.85" class="tm"/>
<line x1="564.8" y1="578.2" x2="578.8" y2="578.2" class="tM"/>
<line x1="564.8" y1="557.55" x2="572.8" y2="557.55" class="tm"/>
<line x1="564.8" y1="536.9" x2="572.8" y2="536.9" class="tm"/>
<line x1="564.8" y1="516.25" x2="572.8" y2="516.25" class="tm"/>
<line x1="564.8" y1="495.6" x2="578.8" y2="495.6" class="tM"/>
<line x1="564.8" y1="474.95" x2="572.8" y2="474.95" class="tm"/>
<line x1="564.8" y1="454.3" x2="572.8" y2="454.3" class="tm"/>
<line x1="598" y1="681.45" x2="598" y2="666.95" class="tM"/>
<line x1="631.25" y1="681.45" x2="631.25" y2="673.45" class="tm"/>
<line x1="664.5" y1="681.45" x2="664.5" y2="673.45" class="tm"/>
<line x1="697.75" y1="681.45" x2="697.75" y2="673.45" class="tm"/>
<line x1="731" y1="681.45" x2="731" y2="673.45" class="tm"/>
<line x1="764.25" y1="681.45" x2="764.25" y2="666.95" class="tM"/>
<text transform="translate(582,492.8) scale(1,1.04)" class="t">K5L7</text>
<line x1="797.2" y1="660.8" x2="811.2" y2="660.8" class="tM"/>
<line x1="797.2" y1="640.15" x2="805.2" y2="640.15" class="tm"/>
<line x1="797.2" y1="619.5" x2="805.2" y2="619.5" class="tm"/>
<line x1="797.2" y1="598.85" x2="805.2" y2="598.85" class="tm"/>
<line x1="797.2" y1="578.2" x2="811.2" y2="578.2" class="tM"/>
<line x1="797.2" y1="557.55" x2="805.2" y2="557.55" class="tm"/>
<line x1="797.2" y1="536.9" x2="805.2" y2="536.9" class="tm"/>
<line x1="797.2" y1="516.25" x2="805.2" y2="516.25" class="tm"/>
<line x1="797.2" y1="495.6" x2="811.2" y2="495.6" class="tM"/>
<line x1="797.2" y1="474.95" x2="805.2" y2="474.95" class="tm"/>
<line x1="797.2" y1="454.3" x2="805.2" y2="454.3" class="tm"/>
<line x1="830.4" y1="681.45" x2="830.4" y2="666.95" class="tM"/>
<line x1="863.65" y1="681.45" x2="863.65" y2="673.45" class="tm"/>
<line x1="896.9" y1="681.45" x2="896.9" y2="673.45" class="tm"/>
<line x1="930.15" y1="681.45" x2="930.15" y2="673.45" class="tm"/>
<line x1="963.4" y1="681.45" x2="963.4" y2="673.45" class="tm"/>
<line x1="996.65" y1="681.45" x2="996.65" y2="666.95" class="tM"/>
<text transform="translate(814.4,492.8) scale(1,1.04)" class="t">C18G</text>
<line x1="1029.6" y1="660.8" x2="1043.6" y2="660.8" class="tM"/>
<line x1="1029.6" y1="640.15" x2="1037.6" y2="640.15" class="tm"/>
<line x1="1029.6" y1="619.5" x2="1037.6" y2="619.5" class="tm"/>
<line x1="1029.6" y1="598.85" x2="1037.6" y2="598.85" class="tm"/>
<line x1="1029.6" y1="578.2" x2="1043.6" y2="578.2" class="tM"/>
<line x1="1029.6" y1="557.55" x2="1037.6" y2="557.55" class="tm"/>
<line x1="1029.6" y1="536.9" x2="1037.6" y2="536.9" class="tm"/>
<line x1="1029.6" y1="516.25" x2="1037.6" y2="516.25" class="tm"/>
<line x1="1029.6" y1="495.6" x2="1043.6" y2="495.6" class="tM"/>
<line x1="1029.6" y1="474.95" x2="1037.6" y2="474.95" class="tm"/>
<line x1="1029.6" y1="454.3" x2="1037.6" y2="454.3" class="tm"/>
<line x1="1062.8" y1="681.45" x2="1062.8" y2="666.95" class="tM"/>
<line x1="1096.05" y1="681.45" x2="1096.05" y2="673.45" class="tm"/>
<line x1="1129.3" y1="681.45" x2="1129.3" y2="673.45" class="tm"/>
<line x1="1162.55" y1="681.45" x2="1162.55" y2="673.45" class="tm"/>
<line x1="1195.8" y1="681.45" x2="1195.8" y2="673.45" class="tm"/>
<line x1="1229.05" y1="681.45" x2="1229.05" y2="666.95" class="tM"/>
<text transform="translate(1046.8,492.8) scale(1,1.04)" class="t">K6L9</text>
<line x1="98" y1="1.75" x2="799.2" y2="1.75" class="sp"/>
<line x1="98" y1="228" x2="1264" y2="228" class="sp"/>
<line x1="98" y1="454.8" x2="1264" y2="454.8" class="sp"/>
<line x1="98" y1="680.8" x2="1264" y2="680.8" class="sp"/>
<line x1="100" y1="-0.25" x2="100" y2="682.8" class="sp"/>
<line x1="332.4" y1="-0.25" x2="332.4" y2="682.8" class="sp"/>
<line x1="564.8" y1="-0.25" x2="564.8" y2="682.8" class="sp"/>
<line x1="797.2" y1="-0.25" x2="797.2" y2="682.8" class="sp"/>
<line x1="1029.6" y1="226" x2="1029.6" y2="682.8" class="sp"/>
<line x1="1262" y1="226" x2="1262" y2="682.8" class="sp"/>
<text transform="translate(84,218.2) scale(1,1.04)" class="t" text-anchor="end">0.0</text>
<text transform="translate(84,135.6) scale(1,1.04)" class="t" text-anchor="end">0.2</text>
<text transform="translate(84,53) scale(1,1.04)" class="t" text-anchor="end">0.4</text>
<text transform="translate(84,444.65) scale(1,1.04)" class="t" text-anchor="end">0.0</text>
<text transform="translate(84,362.05) scale(1,1.04)" class="t" text-anchor="end">0.2</text>
<text transform="translate(84,279.45) scale(1,1.04)" class="t" text-anchor="end">0.4</text>
<text transform="translate(84,671.1) scale(1,1.04)" class="t" text-anchor="end">0.0</text>
<text transform="translate(84,588.5) scale(1,1.04)" class="t" text-anchor="end">0.2</text>
<text transform="translate(84,505.9) scale(1,1.04)" class="t" text-anchor="end">0.4</text>
<text transform="translate(133.2,716.6) scale(1,1.04)" class="t" text-anchor="middle">0</text>
<text transform="translate(299.45,716.6) scale(1,1.04)" class="t" text-anchor="middle">500</text>
<text transform="translate(365.6,716.6) scale(1,1.04)" class="t" text-anchor="middle">0</text>
<text transform="translate(531.85,716.6) scale(1,1.04)" class="t" text-anchor="middle">500</text>
<text transform="translate(598,716.6) scale(1,1.04)" class="t" text-anchor="middle">0</text>
<text transform="translate(764.25,716.6) scale(1,1.04)" class="t" text-anchor="middle">500</text>
<text transform="translate(830.4,716.6) scale(1,1.04)" class="t" text-anchor="middle">0</text>
<text transform="translate(996.65,716.6) scale(1,1.04)" class="t" text-anchor="middle">500</text>
<text transform="translate(1062.8,716.6) scale(1,1.04)" class="t" text-anchor="middle">0</text>
<text transform="translate(1229.05,716.6) scale(1,1.04)" class="t" text-anchor="middle">500</text>
<text transform="translate(681.5,756.8) scale(1,1.04)" class="t" text-anchor="middle">IPTG (µM)</text>
<text transform="translate(22.1,341) rotate(-90) scale(1,1.04)" class="t" text-anchor="middle">OD600</text>
<rect x="870" y="69.5" width="276" height="91.3" rx="4" ry="4" fill="#fff" stroke="#d6d6d6" stroke-width="4"/>
<line x1="879.4" y1="92" x2="941.9" y2="92" stroke="#222" stroke-width="3.8"/>
<circle cx="910.5" cy="91.7" r="4.9" fill="none" stroke="#222" stroke-width="1.7"/>
<line x1="879.4" y1="133.3" x2="941.9" y2="133.3" stroke="#949494" stroke-width="3.8"/>
<circle cx="910.5" cy="133.3" r="4.9" fill="none" stroke="#9c9c9c" stroke-width="1.7"/>
<text transform="translate(963.1,102.1) scale(1,1.04)" class="t">PhoQ</text>
<text transform="translate(963.1,142.8) scale(1,1.04)" class="t">PhoQ H277A</text>
</svg></body></html>
